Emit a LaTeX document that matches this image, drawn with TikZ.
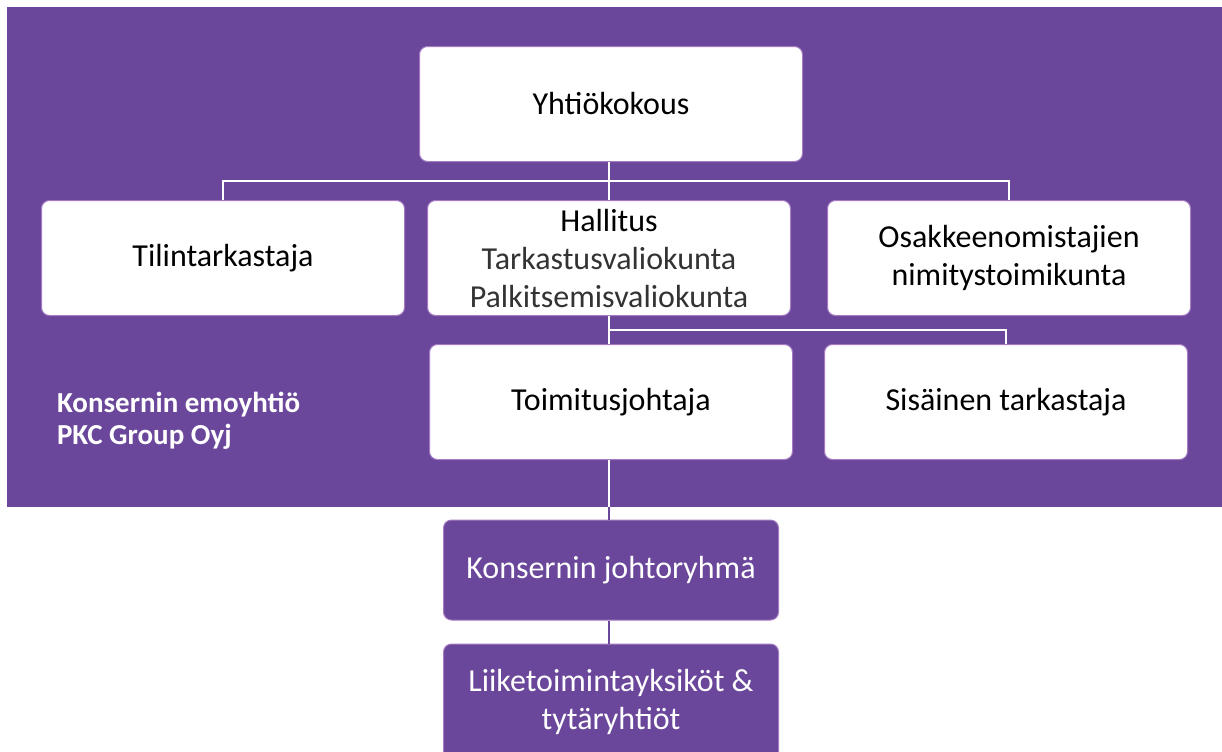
\documentclass[tikz,border=0pt]{standalone}
\usepackage{fontspec}
\setmainfont{Carlito}
\usepackage{tikz}
\usetikzlibrary{positioning}
\usepackage{xcolor}
\definecolor{pkcpurple}{HTML}{6B479B}
\definecolor{pkcedge}{HTML}{A47BC2}

\begin{document}
\begin{tikzpicture}[x=0.5pt, y=-0.5pt,
    orgbox/.style={draw=pkcedge, line width=0.5pt, fill=white, rounded corners=4pt,
        minimum width=181.5pt, minimum height=57.5pt, align=center,
        font=\fontsize{16}{19}\selectfont, text=black, inner sep=2pt},
    darkbox/.style={orgbox, fill=pkcpurple, text=white,
        minimum width=167.5pt, minimum height=50pt},
    conn/.style={draw=white, line width=1pt}]
\clip (0,0) rectangle (1222,751);
\fill[pkcpurple] (7,7) rectangle (1222,507);

% top level
\node[orgbox, minimum width=191.5pt] (yk) at (611,104) {Yhtiökokous};
\node[orgbox] (tilin) at (223,258) {Tilintarkastaja};
\node[orgbox] (hall) at (609,258) {Hallitus\\{\color{black!80}Tarkastusvaliokunta}\\{\color{black!80}Palkitsemisvaliokunta}};
\node[orgbox] (osak) at (1009,258) {Osakkeenomistajien\\nimitystoimikunta};

% second level
\node[orgbox] (toim) at (611,402) {Toimitusjohtaja};
\node[orgbox] (sis) at (1006,402) {Sisäinen tarkastaja};

\node[anchor=west, align=left, text=white, font=\fontsize{14.5}{16}\selectfont\bfseries]
    (emo) at (50,421) {Konsernin emoyhtiö\\PKC Group Oyj};

% outside the parent company
\node[darkbox] (kjr) at (611,570) {Konsernin johtoryhmä};
\node[darkbox, minimum height=58pt] (liik) at (611,702) {Liiketoimintayksiköt \&\\tytäryhtiöt};

% connectors
\coordinate (bus1) at (609,181);
\coordinate (bus2) at (609,330);
\coordinate (bgedge) at (609,507);
\draw[conn] (yk.south -| bus1) -- (hall.north -| bus1);
\draw[conn] (tilin.north) |- (bus1) -| (osak.north);
\draw[conn] (hall.south -| bus2) -- (toim.north -| bus2);
\draw[conn] (bus2) -| (sis.north);
\draw[conn] (toim.south -| bgedge) -- (bgedge);
\draw[conn, draw=pkcpurple] (bgedge) -- (kjr.north -| bgedge);
\draw[conn, draw=pkcpurple] (kjr.south -| bgedge) -- (liik.north -| bgedge);
\end{tikzpicture}
\end{document}
